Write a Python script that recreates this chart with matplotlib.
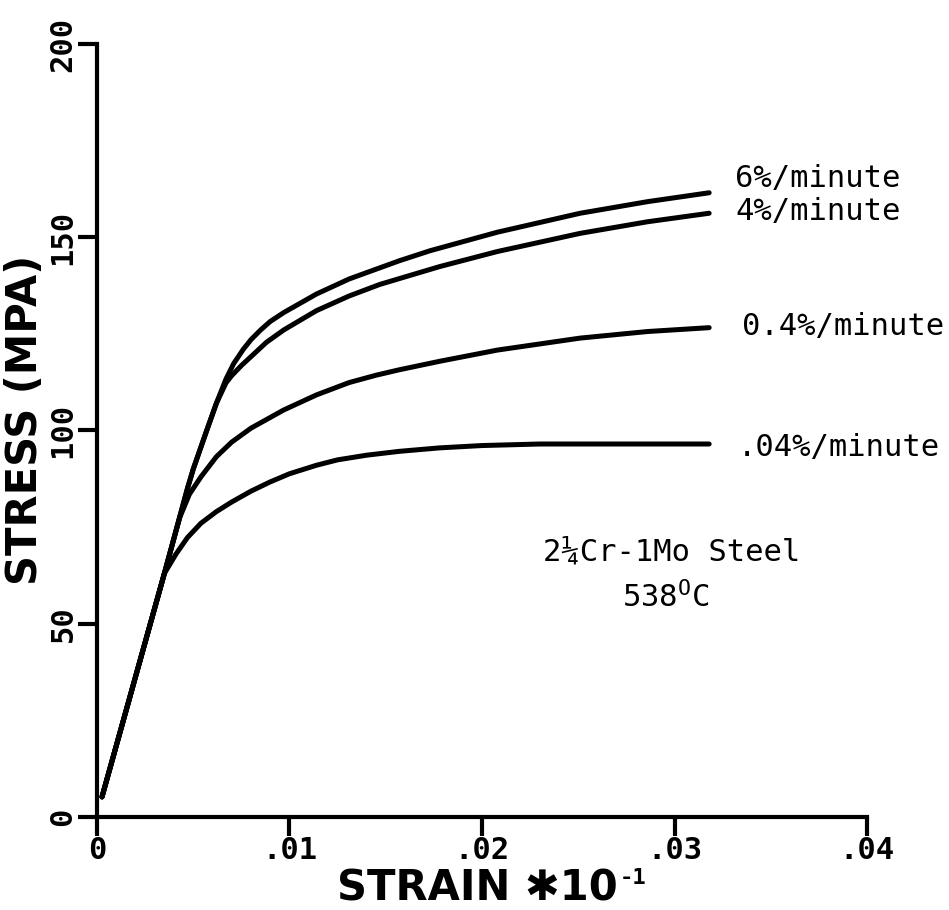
import matplotlib
matplotlib.use('Agg')
import matplotlib.pyplot as plt
from matplotlib.transforms import IdentityTransform

plt.rcParams['mathtext.fontset'] = 'custom'
plt.rcParams['mathtext.rm'] = 'DejaVu Sans Mono'

MONO = 'DejaVu Sans Mono'

# stress-strain curves, 2 1/4 Cr-1Mo steel at 538 C, four strain rates
strain_6 = [0.00026, 0.0035, 0.0047, 0.0050, 0.0057, 0.0062, 0.0067, 0.0071, 0.0076,
            0.0080, 0.0085, 0.0090, 0.0097, 0.0114, 0.0131, 0.0157, 0.0173, 0.0208,
            0.0251, 0.0286, 0.0318]
stress_6 = [5.2, 63, 85, 90, 100, 107, 113.3, 117.3, 121,
            123.5, 126, 128.2, 130.5, 135.3, 139.2, 143.9, 146.5, 151.3,
            156.2, 159.2, 161.5]

strain_4 = [0.00026, 0.0035, 0.0047, 0.0050, 0.0057, 0.0062, 0.0067, 0.0070, 0.0075,
            0.0080, 0.0088, 0.0097, 0.0114, 0.0131, 0.0147, 0.0178, 0.0208, 0.0251,
            0.0286, 0.0318]
stress_4 = [5.2, 63, 85, 90, 100, 107, 112.3, 114.2, 116.8,
            119.1, 122.8, 126, 131, 134.8, 137.8, 142.4, 146.3, 151,
            154, 156.2]

strain_04 = [0.00026, 0.0035, 0.0043, 0.0048, 0.0054, 0.0062, 0.0070, 0.0080, 0.0097,
             0.0114, 0.0131, 0.0145, 0.0157, 0.0178, 0.0208, 0.0251, 0.0286, 0.0318]
stress_04 = [5.2, 63, 77.5, 83.5, 88, 93.2, 97, 100.6, 105.3,
             109.2, 112.4, 114.3, 115.7, 117.9, 120.8, 123.9, 125.6, 126.6]

strain_004 = [0.00026, 0.0035, 0.0041, 0.0047, 0.0054, 0.0062, 0.0070, 0.0080, 0.0090,
              0.0100, 0.0114, 0.0125, 0.0140, 0.0157, 0.0178, 0.0200, 0.0230, 0.0318]
stress_004 = [5.2, 63, 68, 72.3, 76, 79, 81.5, 84.3, 86.7,
              88.8, 91.0, 92.4, 93.6, 94.6, 95.5, 96.1, 96.5, 96.5]

rate_labels = ['6%/minute', '4%/minute', '0.4%/minute', '.04%/minute']
label_x = [0.03314, 0.03314, 0.03351, 0.0333]
label_y = [165.3, 156.6, 126.8, 95.5]

xticks = [0, 0.01, 0.02, 0.03, 0.04]
xtick_labels = ['0', '.01', '.02', '.03', '.04']
yticks = [0, 50, 100, 150, 200]
ytick_labels = ['0', '50', '100', '150', '200']

fig = plt.figure(figsize=(9.49, 9.10), dpi=100)
ax = fig.add_axes([0.1022, 0.1022, 0.8114, 0.8495])

for xs, ys in [(strain_6, stress_6), (strain_4, stress_4),
               (strain_04, stress_04), (strain_004, stress_004)]:
    ax.plot(xs, ys, '-', color='k', lw=3.6, solid_capstyle='round',
            solid_joinstyle='round', clip_on=False)

for txt, tx, ty in zip(rate_labels, label_x, label_y):
    ax.text(tx, ty, txt, family=MONO, fontsize=22, ha='left', va='center')

ax.text(0.02317, 68.6, '2\u00bcCr-1Mo Steel', family=MONO, fontsize=22,
        ha='left', va='center')
ax.text(0.02727, 56.9, '538$^{\\mathrm{O}}$C', family=MONO, fontsize=22,
        ha='left', va='center')

ax.set_xlim(0, 0.04)
ax.set_ylim(0, 200)
ax.set_xticks(xticks, xtick_labels, family=MONO, fontweight='bold', fontsize=22)
ax.set_yticks(yticks, ytick_labels, family=MONO, fontweight='bold', fontsize=22,
              rotation=90, va='center')
ax.tick_params(direction='out', length=14, width=3)
ax.tick_params(axis='x', pad=0)
ax.tick_params(axis='y', pad=0)

for side in ('top', 'right'):
    ax.spines[side].set_visible(False)
for side in ('left', 'bottom'):
    ax.spines[side].set_linewidth(3)

ax.set_ylabel('STRESS (MPA)', fontsize=30, fontweight='bold', va='center', ha='center')
ax.yaxis.set_label_coords(-0.094, 0.5136)
ax.set_xlabel('STRAIN \u273110', fontsize=30, fontweight='bold',
              va='center', ha='center')
ax.xaxis.set_label_coords(0.494, -0.092)

# small "-1" exponent just right of the axis label
fig.canvas.draw()
bb = ax.xaxis.label.get_window_extent()
fig.text(bb.x1 + 2, bb.y1 - 1, '-1', family=MONO, fontsize=16, fontweight='bold',
         ha='left', va='top', transform=IdentityTransform())

fig.savefig('out.png', dpi=100)
